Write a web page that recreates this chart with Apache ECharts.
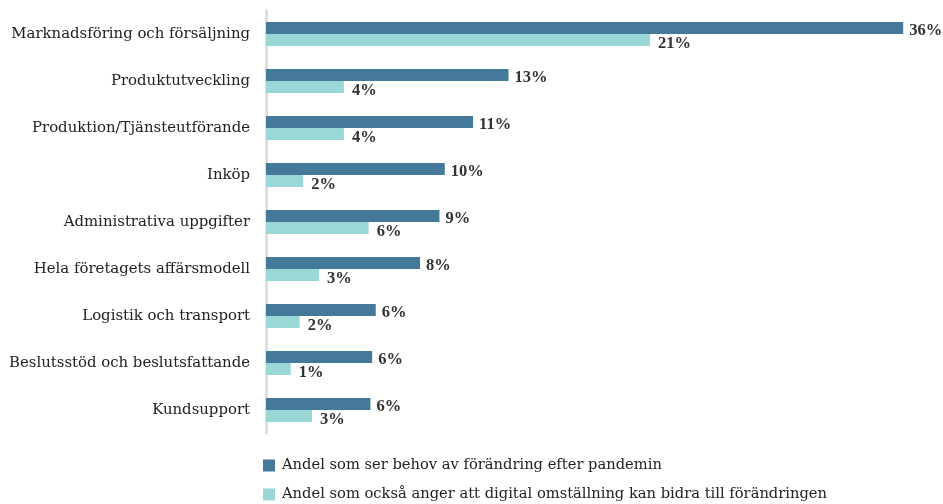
<!DOCTYPE html>
<html>
<head>
<meta charset="utf-8">
<script src="https://cdn.jsdelivr.net/npm/echarts@6/dist/echarts.min.js"></script>
<style>
  html, body { margin: 0; padding: 0; background: #fff; }
  #chart { width: 943px; height: 504px; }
</style>
</head>
<body>
<div id="chart"></div>
<script>
// kategorier, uppifrån och ned
var categories = [
  'Marknadsföring och försäljning',
  'Produktutveckling',
  'Produktion/Tjänsteutförande',
  'Inköp',
  'Administrativa uppgifter',
  'Hela företagets affärsmodell',
  'Logistik och transport',
  'Beslutsstöd och beslutsfattande',
  'Kundsupport'
]
// stapellängder (%)
var behovValues = [36.0, 13.7, 11.7, 10.1, 9.8, 8.7, 6.2, 6.0, 5.9]
var digitalValues = [21.7, 4.4, 4.4, 2.1, 5.8, 3.0, 1.9, 1.4, 2.6]
// etiketterna som de står i bilden
var behovLabels = ['36%', '13%', '11%', '10%', '9%', '8%', '6%', '6%', '6%']
var digitalLabels = ['21%', '4%', '4%', '2%', '6%', '3%', '2%', '1%', '3%']
var seriesNames = [
  'Andel som ser behov av förändring efter pandemin',
  'Andel som också anger att digital omställning kan bidra till förändringen'
]

var font = 'DejaVu Serif'
var boldFont = 'Liberation Serif'
var myChart = echarts.init(document.getElementById('chart'))

var option = {
  animation: false,
  textStyle: { fontFamily: font },
  color: ['#44799a', '#99d8d6'],
  legend: {
    orient: 'vertical',
    left: 258,
    top: 453,
    height: 60,
    itemWidth: 12,
    itemHeight: 12,
    itemGap: 14,
    icon: 'rect',
    textStyle: { fontFamily: font, fontSize: 14.7, color: '#222', padding: [0, 0, 0, 2] },
    data: seriesNames
  },
  grid: { left: 266, top: 10.5, width: 672.6, height: 423 },
  xAxis: {
    type: 'value',
    min: 0,
    max: 38,
    show: false
  },
  yAxis: {
    type: 'category',
    inverse: true,
    data: categories,
    axisLine: { show: true, lineStyle: { color: '#d9d9d9', width: 2.5 } },
    axisTick: { show: false },
    axisLabel: { fontFamily: font, fontSize: 14.9, color: '#222', margin: 16 }
  },
  series: [
    {
      name: seriesNames[0],
      type: 'bar',
      data: behovValues,
      barWidth: 12,
      barGap: '0%',
      label: {
        show: true,
        position: 'right',
        distance: 6,
        offset: [0, 3],
        fontFamily: boldFont,
        fontSize: 16.5,
        fontWeight: 'bold',
        color: '#333',
        formatter: function (p) { return behovLabels[p.dataIndex] }
      }
    },
    {
      name: seriesNames[1],
      type: 'bar',
      data: digitalValues,
      barWidth: 12,
      label: {
        show: true,
        position: 'right',
        distance: 8,
        offset: [0, 4],
        fontFamily: boldFont,
        fontSize: 16.5,
        fontWeight: 'bold',
        color: '#333',
        formatter: function (p) { return digitalLabels[p.dataIndex] }
      }
    }
  ]
}
myChart.setOption(option)
</script>
</body>
</html>
